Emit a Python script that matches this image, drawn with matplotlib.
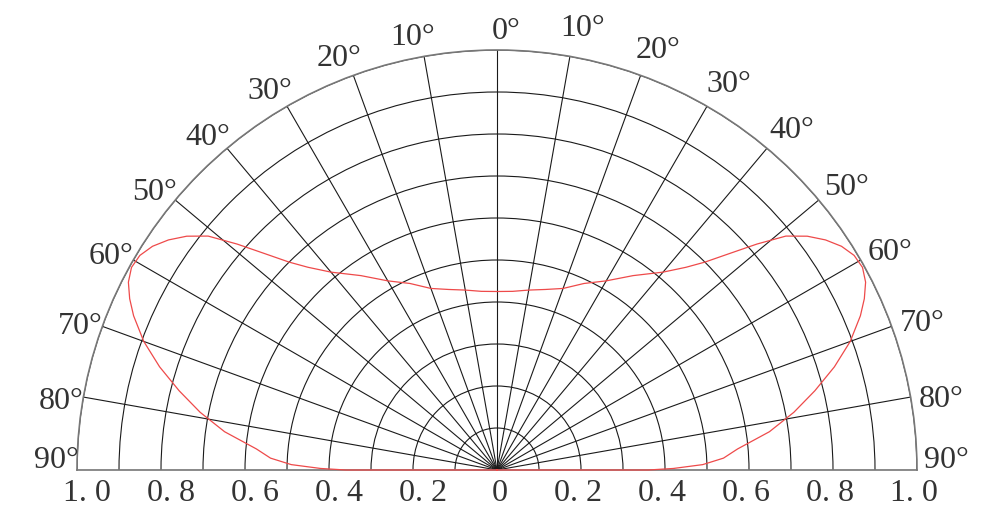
import numpy as np
import matplotlib.pyplot as plt

plt.rcParams['font.family'] = ['Liberation Serif', 'DejaVu Serif']

# Lichtstärkeverteilung (relativ), Winkel in Grad von der Achse
angles_deg = [0, 5, 10, 15, 20, 25, 30, 35, 40, 43, 45, 47, 49, 51, 53, 55, 57, 59,
              61, 63, 65, 67, 70, 73, 76, 79, 82, 85, 87, 88.5, 89.5, 90, 90]
intensity = [0.425, 0.427, 0.435, 0.445, 0.46, 0.49, 0.52, 0.565, 0.615, 0.66, 0.70,
             0.755, 0.82, 0.885, 0.925, 0.955, 0.978, 0.992, 0.995, 0.985, 0.965,
             0.94, 0.895, 0.84, 0.78, 0.72, 0.655, 0.575, 0.54, 0.49, 0.42, 0.36, 0.0]

angle_ticks = [0, 10, 20, 30, 40, 50, 60, 70, 80, 90]
r_ticks = [0.1, 0.2, 0.3, 0.4, 0.5, 0.6, 0.7, 0.8, 0.9, 1.0]
r_labels = [0.2, 0.4, 0.6, 0.8, 1.0]

W, H = 1000, 528
cx, cy, R = 497, 58, 420   # Mittelpunkt (px von unten links) und Radius
fig = plt.figure(figsize=(W / 100, H / 100), dpi=100)
# Polarachse mit Halbkreis: Box ist quadratisch, Halbkreis liegt in der Mitte
mid = cy + R / 2
ax = fig.add_axes([(cx - R) / W, (mid - R) / H, 2 * R / W, 2 * R / H], projection='polar')
ax.set_theta_zero_location('N')
ax.set_theta_direction(-1)
ax.set_thetamin(-90)
ax.set_thetamax(90)
ax.set_ylim(0, 1.0)

# Gitter
th = np.radians([-a for a in angle_ticks[::-1]] + angle_ticks[1:])
ax.set_xticks(th)
ax.set_yticks(r_ticks)
ax.tick_params(labelbottom=False, labelleft=False, length=0)
ax.xaxis.grid(True, color='#1a1a1a', lw=0.8)
ax.yaxis.grid(True, color='#1a1a1a', lw=0.8)
for name in ['polar', 'start', 'end']:
    ax.spines[name].set_color('#777777')
    ax.spines[name].set_linewidth(1.2)
ax.spines['inner'].set_visible(False)

# Kurve (links gespiegelt)
a = np.array(angles_deg)
v = np.array(intensity)
theta = np.radians(np.concatenate([-a[::-1], a]))
r = np.concatenate([v[::-1], v])
ax.plot(theta, r, color='#ee4a4a', lw=0.9, zorder=5, clip_on=False)

txt = dict(fontsize=23, color='#333333', ha='center', va='center')

# Winkelbeschriftung
for d in angle_ticks:
    pos = min(d + 1, 88.8)
    if d == 0:
        ax.text(np.radians(1.2), 1.045, '0°', **txt)
        continue
    ax.text(np.radians(-pos), 1.05, f'{d}°', **txt)
    ax.text(np.radians(pos), 1.07, f'{d}°', **txt)

# Radiusbeschriftung unten
ax.annotate('0', xy=(0, 0), xytext=(2, -17), textcoords='offset points', **txt)
for v_ in r_labels:
    s = f'{v_:.1f}'.replace('.', '. ')
    ax.annotate(s, xy=(np.radians(-90), v_), xytext=(7, -17),
                textcoords='offset points', **txt)
    ax.annotate(s, xy=(np.radians(90), v_), xytext=(-2, -17),
                textcoords='offset points', **txt)

fig.savefig('out.png', dpi=100, facecolor='white')
